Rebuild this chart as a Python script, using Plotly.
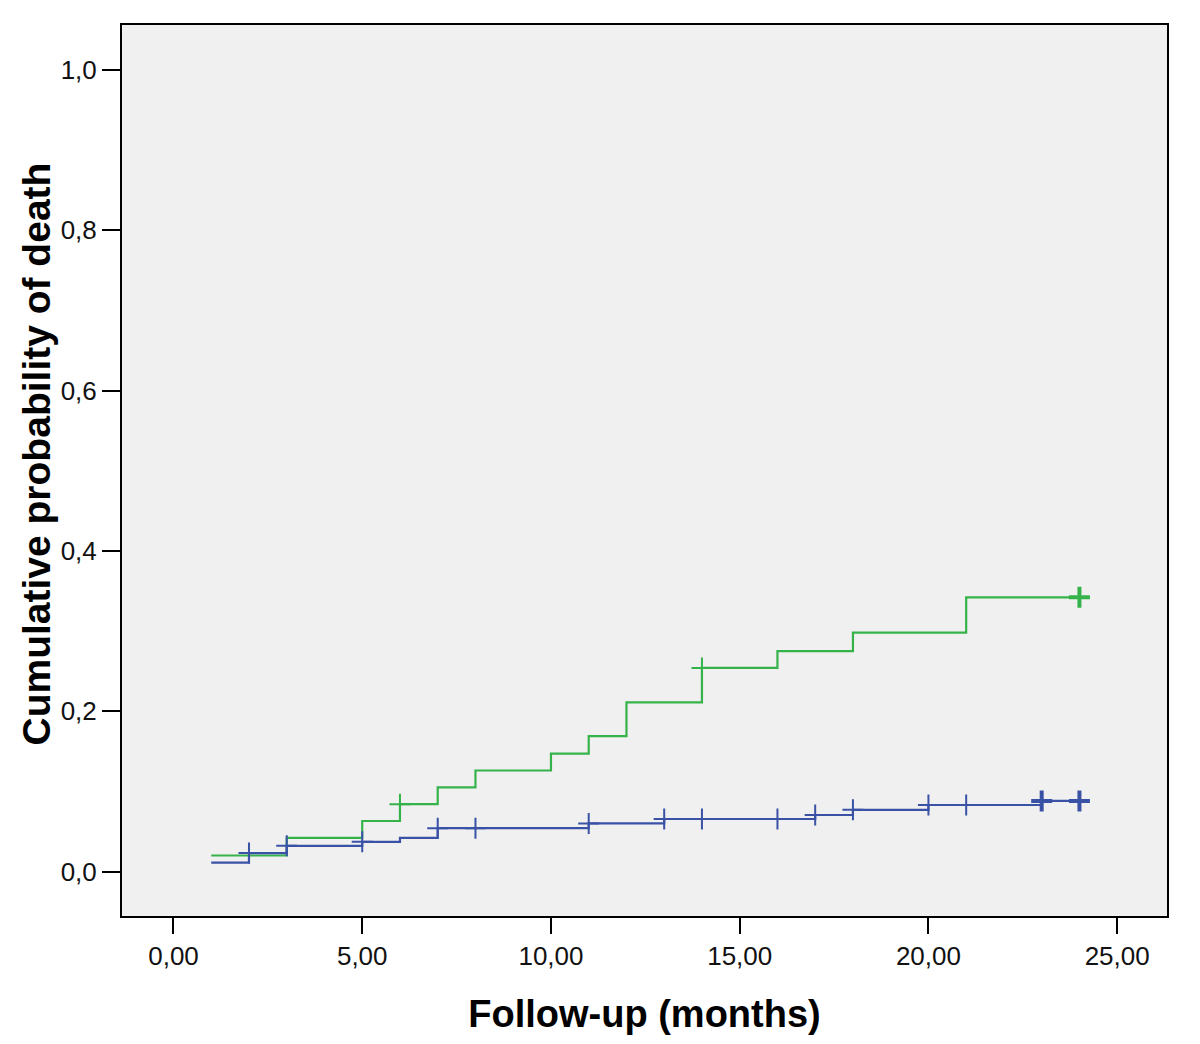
import plotly.graph_objects as go

# Kaplan-Meier style cumulative incidence (step functions)
green_times = [1, 3, 5, 6, 7, 8, 10, 11, 12, 14, 16, 18, 21, 24]
green_probs = [0.020, 0.042, 0.063, 0.084, 0.105, 0.126, 0.147, 0.169, 0.211, 0.254, 0.275, 0.298, 0.342, 0.342]
green_censor_times = [6, 14]
green_censor_probs = [0.084, 0.254]
green_end_censor_times = [24]
green_end_censor_probs = [0.342]

blue_times = [1, 2, 3, 5, 6, 7, 11, 13, 17, 18, 20, 23, 24]
blue_probs = [0.011, 0.023, 0.032, 0.037, 0.042, 0.054, 0.060, 0.0655, 0.0705, 0.077, 0.083, 0.088, 0.088]
blue_censor_times = [2, 3, 5, 7, 8, 11, 13, 14, 16, 17, 18, 20, 21]
blue_censor_probs = [0.023, 0.032, 0.037, 0.054, 0.054, 0.060, 0.0655, 0.0655, 0.0655, 0.0705, 0.077, 0.083, 0.083]
blue_end_censor_times = [23, 24]
blue_end_censor_probs = [0.088, 0.088]

x_ticks = [0, 5, 10, 15, 20, 25]
y_ticks = [0.0, 0.2, 0.4, 0.6, 0.8, 1.0]

GREEN = "#35b34a"
BLUE = "#3a52a6"

fig = go.Figure()

for t, p, col in [(green_times, green_probs, GREEN), (blue_times, blue_probs, BLUE)]:
    fig.add_trace(go.Scatter(x=t, y=p, mode="lines", line=dict(color=col, width=2.2, shape="hv"),
                             hoverinfo="skip"))

for t, p, col, w in [
    (green_censor_times, green_censor_probs, GREEN, 2),
    (blue_censor_times, blue_censor_probs, BLUE, 2),
    (green_end_censor_times, green_end_censor_probs, GREEN, 4),
    (blue_end_censor_times, blue_end_censor_probs, BLUE, 4),
]:
    fig.add_trace(go.Scatter(x=t, y=p, mode="markers",
                             marker=dict(symbol="cross-thin", size=15, line=dict(color=col, width=w)),
                             hoverinfo="skip"))

axis_common = dict(
    showline=True, linecolor="black", linewidth=2, mirror=True,
    ticks="outside", tickcolor="black", tickwidth=2,
    showgrid=False, zeroline=False,
    tickfont=dict(family="Liberation Sans, Arial", size=26, color="#111"),
)

fig.update_xaxes(
    range=[-1.364, 26.32], tickvals=x_ticks, tickformat=".2f", ticklen=16,
    title=dict(text="Follow-up (months)", font=dict(family="Liberation Sans, Arial", size=38, color="black", weight="bold"),
               standoff=30),
    **axis_common,
)
fig.update_yaxes(
    range=[-0.0555, 1.056], tickvals=y_ticks, tickformat=".1f", ticklen=18,
    **axis_common,
)

fig.add_annotation(
    text="Cumulative probability of death", textangle=-90,
    xref="paper", yref="paper", x=0, y=0.5, xanchor="center", yanchor="middle",
    xshift=-86, yshift=16, showarrow=False,
    font=dict(family="Liberation Sans, Arial", size=39, color="black", weight="bold"),
)

fig.update_layout(
    width=1200, height=1044,
    margin=dict(l=114, r=41, t=17, b=136, autoexpand=False),
    plot_bgcolor="#f0f0f0", paper_bgcolor="white",
    showlegend=False,
    separators=", ",
)

fig.write_html("out.html")
